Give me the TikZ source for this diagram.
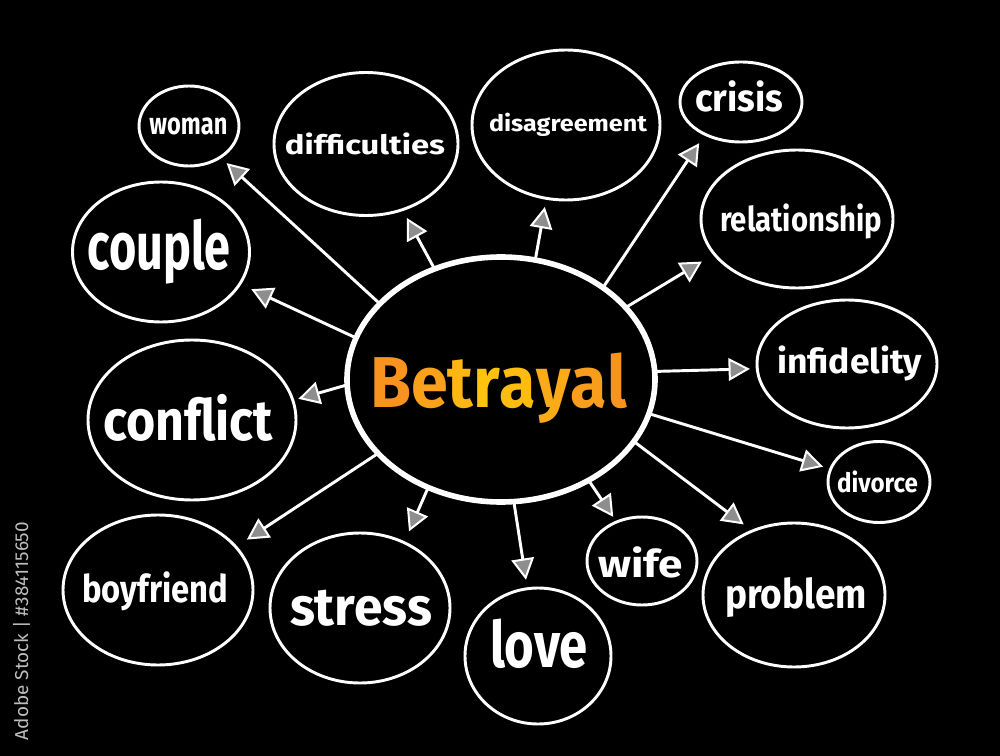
\documentclass[tikz,border=0pt]{standalone}
\usepackage{fontspec}
\usepackage{graphicx}
\setmainfont{Fira Sans}
\IfFontExistsTF{FiraSans-SemiBold.otf}{\newfontfamily\hand{FiraSans-SemiBold.otf}}{\newcommand\hand{\bfseries}}
\usetikzlibrary{shapes.geometric,arrows.meta}
\newdimen\mmu \mmu=0.75pt
\newcommand\mmtxt[3]{\resizebox{#2\mmu}{\height}{\fontsize{#1}{#1}\selectfont\hand #3}}
\definecolor{bgc}{HTML}{000000}
\definecolor{tipfill}{HTML}{8E8E8E}
\definecolor{wmgray}{HTML}{BEBEBE}
\definecolor{oa}{HTML}{F7931E}
\definecolor{ob}{HTML}{F9A11B}
\definecolor{oc}{HTML}{FDB614}
\definecolor{od}{HTML}{FFC20E}
\definecolor{oe}{HTML}{FEBC10}
\definecolor{of}{HTML}{FBAB17}
\definecolor{og}{HTML}{F99D1C}
\definecolor{oh}{HTML}{F7931E}
\begin{document}
\begin{tikzpicture}[x=0.75pt,y=-0.75pt,
  bub/.style={draw=white, line width=2.2pt, ellipse, inner sep=0pt, outer sep=0pt},
  sz/.style 2 args={minimum width=#1*1.5pt, minimum height=#2*1.5pt},
  lbl/.style={text=white, inner sep=0pt, anchor=base},
  arr/.style={draw=white, line width=2.2pt,
    -{Triangle[length=16pt,width=17pt,line width=1.5pt,fill=tipfill]}}]
\fill[bgc] (0,0) rectangle (1000,756);
\useasboundingbox (0,0) rectangle (1000,756);

% central idea
\node[bub, line width=4.2pt, sz={154}{122.5}] (c) at (501,379.5) {};
\node[lbl] (ct) at (498.5,407) {\resizebox{257\mmu}{\height}{\fontsize{54}{54}\selectfont\hand
  \textcolor{oa}{B}\textcolor{ob}{e}\textcolor{oc}{t}\textcolor{od}{r}\textcolor{oe}{a}\textcolor{of}{y}\textcolor{og}{a}\textcolor{oh}{l}}};

% satellites
\node[bub, sz={50}{40}]     (woman)  at (189,126) {};
\node[bub, sz={92}{71.5}]   (diff)   at (366,144) {};
\node[bub, sz={94}{75}]     (disag)  at (566,125) {};
\node[bub, sz={61}{40}]     (crisis) at (741,102) {};
\node[bub, sz={96}{69}]     (rel)    at (797,219) {};
\node[bub, sz={90}{64}]     (inf)    at (847,364) {};
\node[bub, sz={51}{40.5}]   (div)    at (879,482) {};
\node[bub, sz={91}{72}]     (prob)   at (794,595) {};
\node[bub, sz={55}{44}]     (wife)   at (642,561) {};
\node[bub, sz={73}{68}]     (love)   at (538,656) {};
\node[bub, sz={90}{75}]     (stress) at (360,608) {};
\node[bub, sz={95}{75}]     (boy)    at (158,590) {};
\node[bub, sz={104}{80}]    (conf)   at (192,420) {};
\node[bub, sz={88.5}{70}]   (couple) at (161,252) {};

% labels
\node[lbl] (woman-t)  at (188.5,135) {\mmtxt{22.8}{78}{woman}};
\node[lbl] (diff-t)   at (365,155)   {\mmtxt{20}{160}{difficulties}};
\node[lbl] (disag-t)  at (568,132)   {\mmtxt{17}{158}{disagreement}};
\node[lbl] (crisis-t) at (739,112)   {\mmtxt{28.5}{88}{crisis}};
\node[lbl] (rel-t)    at (801,232)   {\mmtxt{25.6}{162}{relationship}};
\node[lbl] (inf-t)    at (849.5,373) {\mmtxt{25.6}{145}{infidelity}};
\node[lbl] (div-t)    at (877.5,492) {\mmtxt{20}{81}{divorce}};
\node[lbl] (prob-t)   at (796,608)   {\mmtxt{30.6}{142}{problem}};
\node[lbl] (wife-t)   at (640.5,577) {\mmtxt{28.5}{85}{wife}};
\node[lbl] (love-t)   at (539,667)   {\mmtxt{48}{98}{love}};
\node[lbl] (stress-t) at (361,625)   {\mmtxt{40}{142}{stress}};
\node[lbl] (boy-t)    at (155,602)   {\mmtxt{28.5}{146}{boyfriend}};
\node[lbl] (conf-t)   at (188,440)   {\mmtxt{42.7}{170}{conflict}};
\node[lbl] (couple-t) at (159,270)   {\mmtxt{49.8}{143}{couple}};

% connectors
\draw[arr, shorten >=6.5pt] (c.148.4) -- (woman.315.8);
\draw[arr, shorten >=7.1pt] (c.121.1) -- (diff.299);
\draw[arr, shorten >=6.6pt] (c.74.6)  -- (disag.255.6);
\draw[arr, shorten >=8pt]   (c.42.6)  -- (crisis.222.9);
\draw[arr, shorten >=10.9pt](c.30.1)  -- (rel.203.9);
\draw[arr, shorten >=5.5pt] (c.3.9)   -- (inf.183);
\draw[arr, shorten >=6pt]   (c.347.7) -- (div.165);
\draw[arr, shorten >=8.2pt] (c.335)   -- (prob.123.3);
\draw[arr, shorten >=4.6pt] (c.311.5) -- (wife.123.4);
\draw[arr, shorten >=6.8pt] (c.276.4) -- (love.99.7);
\draw[arr, shorten >=9.2pt] (c.236)   -- (stress.56.7);
\draw[arr, shorten >=10pt]  (c.211)   -- (boy.29.3);
\draw[arr, shorten >=4.3pt] (c.182.4) -- (conf.11.7);
\draw[arr, shorten >=9.5pt] (c.164.1) -- (couple.338.4);

% stock credit
\node[rotate=90, anchor=base, inner sep=0pt, text=wmgray] (stock) at (28,631)
  {\resizebox{218\mmu}{\height}{\fontsize{14}{14}\selectfont Adobe Stock | \#384115650}};
\end{tikzpicture}
\end{document}
